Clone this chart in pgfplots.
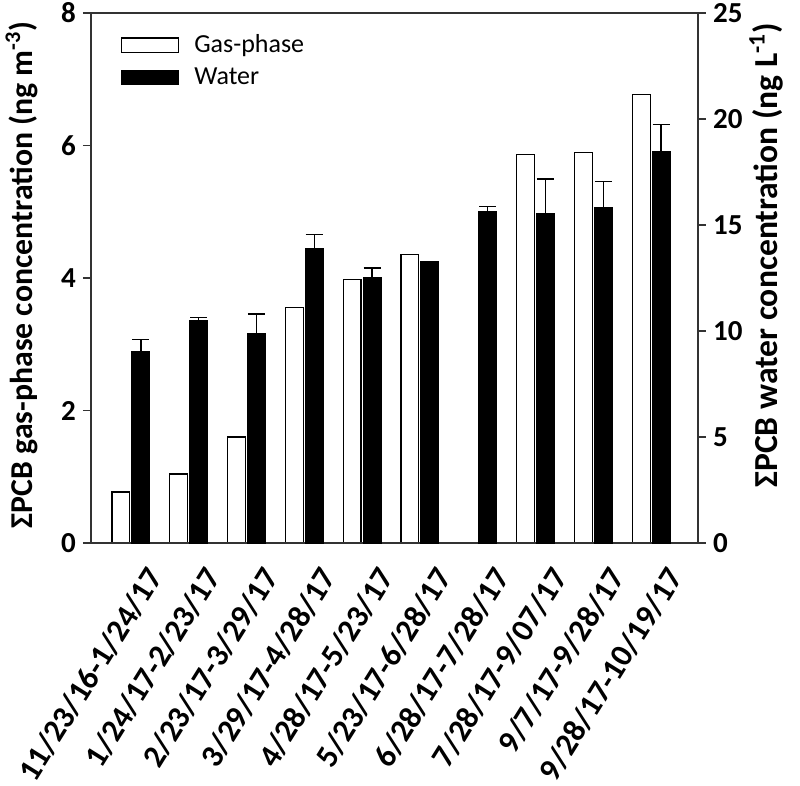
\documentclass[border=0pt]{standalone}
\usepackage{fontspec}
\setmainfont{Carlito}
\usepackage{pgfplots}
\usepackage{pgfplotstable}
\pgfplotsset{compat=1.18}

\pgfplotstableread{
x y
0 0.77
1 1.04
2 1.60
3 3.55
4 3.98
5 4.35
7 5.87
8 5.90
9 6.77
}\gas

\pgfplotstableread{
x y e
0 9.02 0.59
1 10.47 0.18
2 9.86 0.95
3 13.89 0.66
4 12.54 0.44
5 13.27 0.0
6 15.63 0.23
7 15.53 1.63
8 15.81 1.25
9 18.46 1.28
}\water

\pgfplotsset{
  mylegend/.style={legend image code/.code={\draw[#1,line width=0.6pt] (0pt,-3.6pt) rectangle (28.5pt,3.6pt);}},
}

\begin{document}
\begin{tikzpicture}
\path[use as bounding box] (-45.5pt,-121.5pt) rectangle (354.5pt,271.5pt);
\begin{axis}[
  at={(0pt,0pt)}, anchor=south west,
  scale only axis, width=303.5pt, height=265pt,
  xmin=-0.69, xmax=9.81, ymin=0, ymax=8,
  ytick={0,2,4,6,8}, ytick pos=left, tick align=outside,
  major tick length=4pt,
  xtick={0,...,9},
  xticklabels={11/23/16-1/24/17,1/24/17-2/23/17,2/23/17-3/29/17,3/29/17-4/28/17,4/28/17-5/23/17,5/23/17-6/28/17,6/28/17-7/28/17,7/28/17-9/07/17,9/7/17-9/28/17,9/28/17-10/19/17},
  xtick style={draw=none},
  x tick label style={rotate=58, anchor=north east, font=\bfseries\fontsize{16}{16}\selectfont, inner sep=1pt, xshift=-1pt, yshift=-8.5pt},
  y tick label style={font=\bfseries\fontsize{14.5}{14.5}\selectfont},
  /pgf/number format/assume math mode=true,
  axis line style={line width=0.6pt, black!80},
  tick style={line width=0.6pt, black!80},
  ylabel={\bfseries ΣPCB gas-phase concentration (ng m\textsuperscript{-3})},
  ylabel style={font=\fontsize{15.9}{15.9}\selectfont, at={(axis description cs:-0.114,0.506)}, anchor=center},
  legend style={draw=none, fill=none, at={(axis description cs:0.049,0.96)}, anchor=north west,
    font=\fontsize{13}{13}\selectfont, inner sep=0pt, row sep=6pt, nodes={inner sep=0pt}},
  legend cell align=left,
]
\addplot[ybar, bar width=0.31, bar shift=0, fill=white, draw=black, line width=0.6pt, mylegend]
  table[x expr=\thisrow{x}-0.173, y=y] {\gas};
\addlegendentry{\hspace{7.5pt}Gas-phase}
\addlegendimage{fill=black, draw=black, mylegend}
\addlegendentry{\hspace{7.5pt}Water}
\end{axis}
\begin{axis}[
  at={(0pt,0pt)}, anchor=south west,
  scale only axis, width=303.5pt, height=265pt,
  xmin=-0.69, xmax=9.81, ymin=0, ymax=25,
  xtick=\empty,
  ytick={0,5,10,15,20,25}, ytick pos=right, yticklabel pos=right, tick align=outside,
  major tick length=4pt,
  y tick label style={font=\bfseries\fontsize{14.5}{14.5}\selectfont},
  /pgf/number format/assume math mode=true,
  axis line style={line width=0.6pt, black!80},
  tick style={line width=0.6pt, black!80},
  clip=false,
]
\addplot[ybar, bar width=0.31, bar shift=0, fill=black, draw=black, line width=0.6pt,
  error bars/.cd, y dir=plus, y explicit,
  error bar style={line width=0.7pt, black},
  error mark options={rotate=90, mark size=4.3pt, line width=0.7pt, black}]
  table[x expr=\thisrow{x}+0.173, y=y, y error=e] {\water};
\node[rotate=90, anchor=center, font=\bfseries\fontsize{16.8}{16.8}\selectfont]
  at (axis description cs:1.112,0.543) {ΣPCB water concentration (ng L\textsuperscript{-1})};
\end{axis}
\end{tikzpicture}
\end{document}
